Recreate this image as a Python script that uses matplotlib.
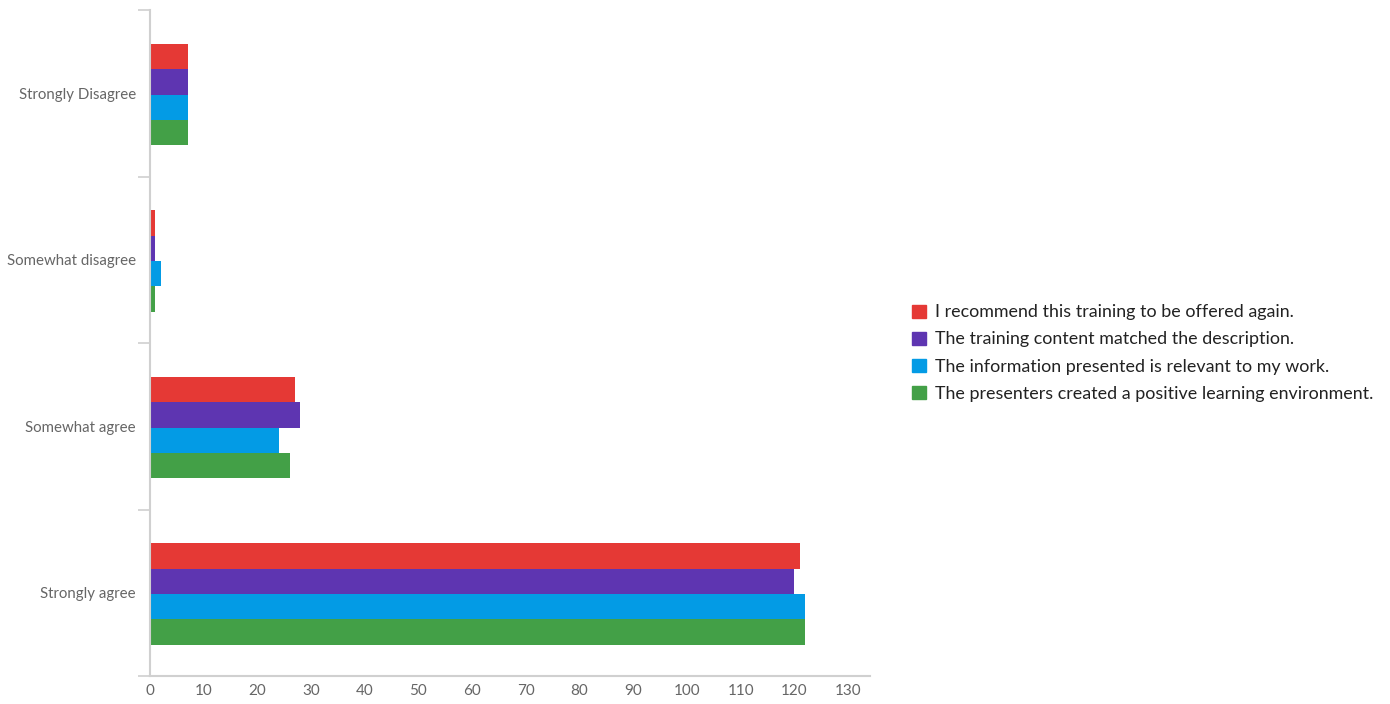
import numpy as np
import matplotlib
matplotlib.use("Agg")
import matplotlib.pyplot as plt
from matplotlib.patches import Patch

categories = ["Strongly Disagree", "Somewhat disagree", "Somewhat agree", "Strongly agree"]
series_names = [
    "I recommend this training to be offered again.",
    "The training content matched the description.",
    "The information presented is relevant to my work.",
    "The presenters created a positive learning environment.",
]
recommend = [7, 1, 27, 121]
content = [7, 1, 28, 120]
relevant = [7, 2, 24, 122]
presenters = [7, 1, 26, 122]
colors = ["#E53935", "#5E35B1", "#039BE5", "#43A047"]
x_ticks = list(range(0, 131, 10))

plt.rcParams['font.family'] = ['Lato', 'DejaVu Sans']

fig = plt.figure(figsize=(13.9, 7.04), dpi=100)
ax = fig.add_axes([150 / 1390, 1 - 676 / 704, 720 / 1390, 666 / 704])

y = np.arange(len(categories))
h = 0.152
all_series = [recommend, content, relevant, presenters]
for k, (vals, c) in enumerate(zip(all_series, colors)):
    ax.barh(y + (k - 1.5) * h + 0.008, vals, height=h, color=c, label=series_names[k])

ax.set_ylim(3.5, -0.5)
ax.set_xlim(0, 134.1)

# category boundaries as ticks, names in between
ax.set_yticks(np.arange(-0.5, 4, 1))
ax.set_yticklabels([])
ax.set_yticks(y, minor=True)
ax.set_yticklabels(categories, minor=True)
ax.tick_params(axis='y', which='major', length=9, width=1.2, color='#d0d0d0')
ax.tick_params(axis='y', which='minor', length=0, pad=10, labelsize=10.8, labelcolor='#666666')

ax.set_xticks(x_ticks)
ax.tick_params(axis='x', length=0, pad=6, labelsize=11, labelcolor='#666666')

for s in ['top', 'right']:
    ax.spines[s].set_visible(False)
for s in ['left', 'bottom']:
    ax.spines[s].set_color('#d0d0d0')
    ax.spines[s].set_linewidth(1.5)

handles = [Patch(color=c) for c in colors]
fig.legend(handles, series_names, loc='center left', bbox_to_anchor=(896 / 1390, 1 - 353 / 704),
           frameon=False, fontsize=12.9, handlelength=0.75, handleheight=0.75,
           handletextpad=0.55, labelspacing=0.62, labelcolor='#222222')

fig.savefig('out.png', dpi=100)
